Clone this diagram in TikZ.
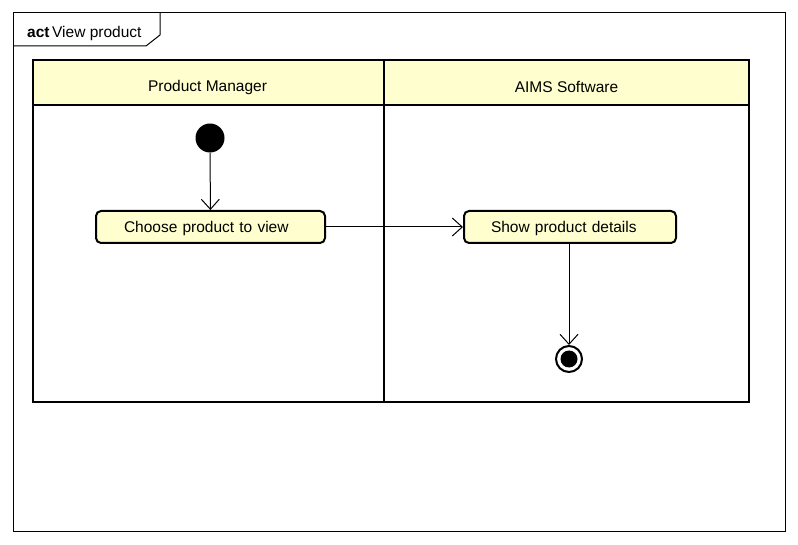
\documentclass[tikz,border=0pt]{standalone}
\usepackage{fontspec}
\setmainfont{Liberation Sans}
\usetikzlibrary{arrows.meta}
\definecolor{laneyellow}{HTML}{FEFECE}
\tikzset{
  thickline/.style={line width=2.2pt},
  action/.style={draw, line width=2pt, rounded corners=5pt, fill=laneyellow, minimum height=32pt, inner ysep=0pt, align=left, text height=12pt, text depth=0pt, font=\fontsize{15.5}{18}\selectfont},
  flow/.style={line width=1pt, -{Straight Barb[length=10pt,width=18pt,line width=1pt]}},
  lbl/.style={font=\fontsize{15.5}{18}\selectfont}
}
\begin{document}
\begin{tikzpicture}[x=1pt,y=-1pt]
\useasboundingbox (0,0) rectangle (798,545);
\fill[white] (0,0) rectangle (798,545);
% outer frame
\draw[line width=1pt] (13,13) rectangle (785,531);
\draw[line width=1pt] (13,46) -- (146,46) -- (160,35) -- (160,13);
\node[lbl, anchor=west, inner sep=0pt] (title) at (27,33) {\textbf{act}\,View product};
% swimlanes
\fill[laneyellow] (33,60) rectangle (749,105);
\draw[thickline] (33,60) rectangle (749,402);
\draw[thickline] (33,105) -- (749,105);
\draw[thickline] (384,60) -- (384,402);
\node[lbl] (lane1) at (207.5,87) {Product Manager};
\node[lbl] (lane2) at (566.5,87) {AIMS Software};
% nodes
\node[circle, fill=black, minimum size=29pt, inner sep=0pt] (start) at (210,138) {};
\node[action, inner xsep=28pt, text width=173pt] (choose) at (210.5,227) {Choose product to view};
\node[action, inner xsep=27pt, text width=158pt] (show) at (570,227) {Show product details};
\node[circle, draw, line width=2pt, minimum size=26pt, inner sep=0pt] (end) at (569,359) {};
\node[circle, fill=black, minimum size=17pt, inner sep=0pt] (endin) at (569,359) {};
% connectors
\draw[flow] (start) -- (choose);
\draw[flow] (choose) -- (show);
\draw[flow] (show.south -| end) -- (end);
\end{tikzpicture}
\end{document}
